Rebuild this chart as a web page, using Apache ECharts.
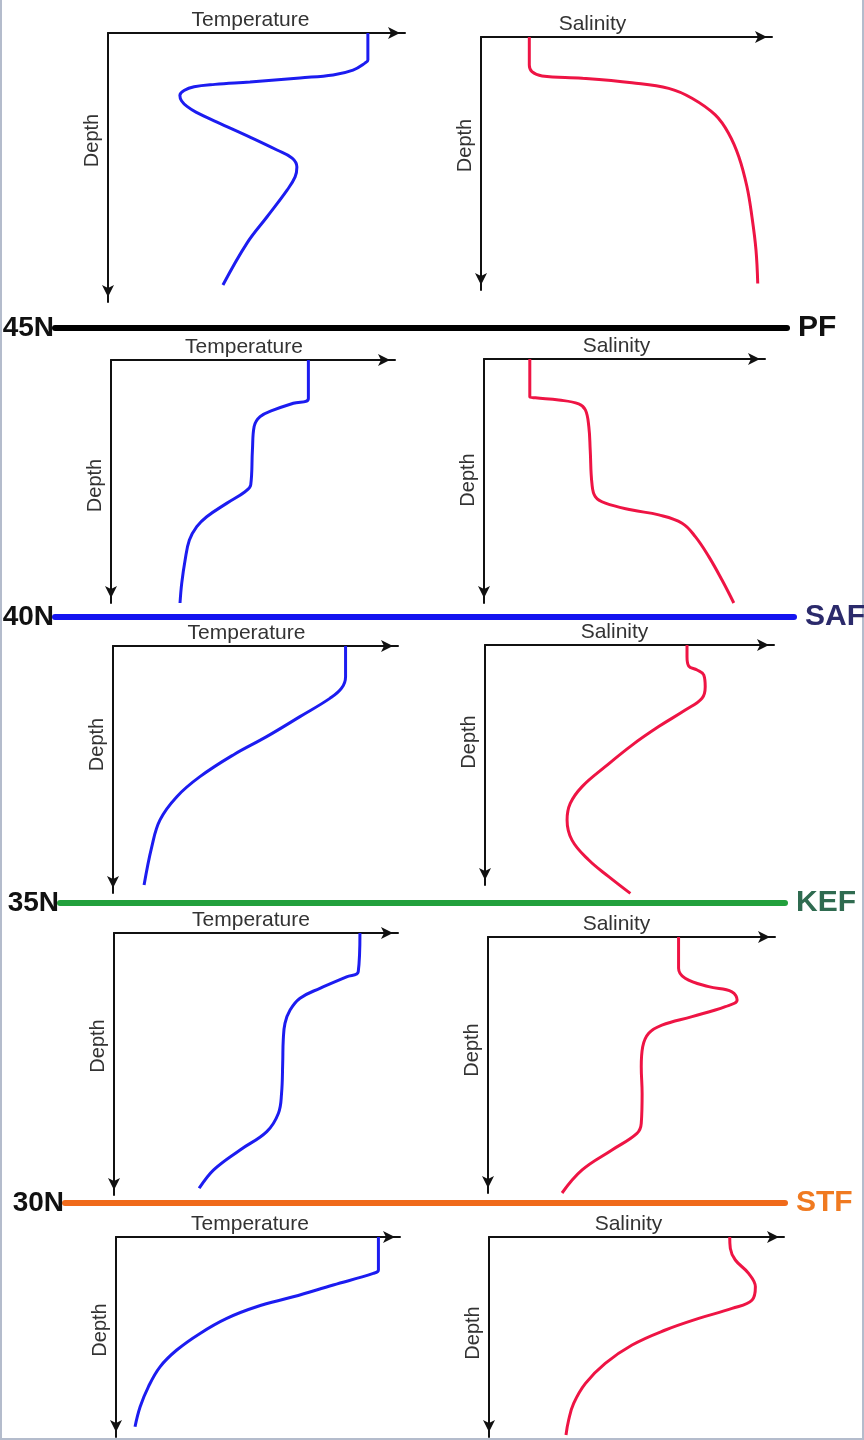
<!DOCTYPE html>
<html>
<head>
<meta charset="utf-8">
<script src="https://cdn.jsdelivr.net/npm/echarts@6/dist/echarts.min.js"></script>
<style>
html,body{margin:0;padding:0;background:#fff;}
#chart{width:864px;height:1440px;}
</style>
</head>
<body>
<div id="chart"></div>
<script>
// ---- Data: profiles as [value (% of axis), depth (% of axis)] ----
const tempRow1 = [[87.5,0],[87.5,10.0],[86.5,11.2],[82.5,13.8],[75.8,15.6],[64.6,16.7],[47.8,18.2],[36.0,19.1],[29.0,20.0],[25.6,21.4],[24.2,23.2],[24.8,25.3],[26.6,27.3],[29.6,29.4],[36.7,33.1],[47.8,38.7],[56.9,43.5],[62.0,46.5],[63.6,49.8],[63.0,53.5],[60.3,58.4],[53.5,68.4],[46.8,78.1],[38.7,93.7]];
const salRow1 = [[16.6,0],[16.6,11.1],[17.5,13.7],[21.0,15.4],[34.7,16.3],[51.9,18.1],[64.5,20.3],[72.5,24.2],[80.5,30.8],[85.1,38.1],[88.6,47.3],[91.4,59.2],[93.1,71.0],[94.5,84.2],[95.1,97.4]];
const tempRow2 = [[69.5,0],[69.5,15.8],[64.2,17.8],[57.1,20.6],[52.5,23.3],[50.4,27.4],[49.8,37.0],[49.2,51.4],[47.2,54.2],[40.7,59.0],[33.7,64.5],[30.2,68.6],[27.6,74.1],[26.1,82.3],[24.9,91.9],[24.3,100]];
const salRow2 = [[16.3,0],[16.3,15.5],[18.3,15.9],[26.6,16.8],[33.7,18.4],[36.1,20.9],[37.3,27.7],[37.8,37.3],[38.4,50.9],[39.6,56.4],[43.2,59.1],[52.7,61.9],[62.2,63.9],[70.5,67.3],[75.2,72.8],[80.0,81.0],[84.7,90.6],[88.9,100]];
const tempRow3 = [[81.6,0],[81.6,12.4],[80.2,17.1],[76.1,21.2],[65.6,28.6],[53.9,36.7],[42.2,44.1],[30.5,52.9],[22.4,61.0],[16.5,70.4],[13.6,81.3],[10.9,96.8]];
const salRow3 = [[69.9,0],[69.9,4.9],[70.5,8.8],[73.4,10.4],[75.7,12.5],[76.2,17.4],[75.1,22.2],[69.3,27.1],[60.1,34.0],[50.9,41.7],[41.6,50.7],[33.6,59.0],[29.5,66.0],[28.4,72.9],[30.1,81.3],[35.9,89.6],[42.8,96.5],[50.3,103.5]];
const tempRow4 = [[86.6,0],[86.0,14.8],[81.9,16.7],[72.5,21.1],[65.5,24.9],[62.0,29.4],[60.2,34.5],[59.6,40.8],[59.4,49.7],[59.0,61.2],[57.9,68.8],[53.8,75.8],[44.4,82.8],[35.0,90.5],[30.0,97.4]];
const salRow4 = [[66.4,0],[66.4,12.2],[68.7,16.1],[76.9,19.4],[85.0,21.4],[86.8,24.6],[82.7,27.2],[71.1,31.1],[60.6,34.4],[56.0,37.6],[53.9,42.9],[53.4,50.7],[53.7,61.1],[53.4,72.8],[51.9,76.7],[43.2,83.2],[32.8,91.0],[25.8,100]];
const tempRow5 = [[92.4,0],[92.4,16.5],[90.6,18.2],[76.5,24.0],[62.4,29.9],[49.5,34.9],[39.0,40.7],[29.6,48.2],[21.4,56.5],[15.5,64.9],[11.4,74.9],[8.5,84.9],[6.7,94.9]];
const salRow5 = [[81.6,0],[81.8,5.7],[83.5,11.5],[88.0,18.2],[90.3,24.9],[89.2,31.5],[82.4,35.7],[71.1,40.7],[59.8,46.5],[48.5,54.0],[39.4,63.2],[32.7,73.2],[28.7,83.2],[27.0,91.5],[26.1,99.0]];

const frontLat = ['45N','40N','35N','30N'];
const frontName = ['PF','SAF','KEF','STF'];

// ---- Layout (pixels) ----
const panelBox = [
  [108,33,297,269],[481,37,291,253],
  [111,360,284,243],[484,359,281,244],
  [113,646,285,247],[485,645,289,240],
  [114,933,284,262],[488,937,287,256],
  [116,1237,284,200],[489,1237,295,200]
];
const nameShiftX = [6,34,9,8,9,15,5,15,8,8];
const nameShiftY = [27,18,-4,1,25,23,18,15,7,4];
const frontY = [328,617,903,1203];
const frontX = [[55,787],[55,794],[60,785],[65,785]];
const frontLineColor = ['#000000','#1414f0','#22a03c','#f06a1a'];
const frontTextColor = ['#111111','#2b2a6b','#2f6b50','#f07a20'];

const profiles = [tempRow1,salRow1,tempRow2,salRow2,tempRow3,salRow3,tempRow4,salRow4,tempRow5,salRow5];
const FONT = 'Liberation Sans, Arial, sans-serif';

const grids = [], xAxes = [], yAxes = [], series = [];
panelBox.forEach((b,i) => {
  const isTemp = i % 2 === 0;
  grids.push({left:b[0], top:b[1], width:b[2], height:b[3]});
  const sx = nameShiftX[i], sy = nameShiftY[i];
  xAxes.push({
    gridIndex:i, type:'value', min:0, max:100, position:'top',
    name: isTemp ? 'Temperature' : 'Salinity',
    nameLocation:'middle', nameGap:2,
    nameTextStyle:{fontSize:21, color:'#333', fontFamily:FONT, padding:[0, 2*sx, 0, 0]},
    axisLine:{show:true, onZero:false, symbol:['none','arrow'], symbolSize:[9,12], symbolOffset:[0,-5],
      lineStyle:{color:'#111', width:2}},
    axisTick:{show:false}, axisLabel:{show:false}, splitLine:{show:false}
  });
  yAxes.push({
    gridIndex:i, type:'value', min:0, max:100, inverse:true, position:'left',
    name:'Depth', nameLocation:'middle', nameRotate:90, nameGap:6,
    nameTextStyle:{fontSize:20, color:'#333', fontFamily:FONT,
      padding: sy >= 0 ? [0,0,0,2*sy] : [0,-2*sy,0,0]},
    axisLine:{show:true, onZero:false, symbol:['arrow','none'], symbolSize:[9,12], symbolOffset:[5,0],
      lineStyle:{color:'#111', width:2}},
    axisTick:{show:false}, axisLabel:{show:false}, splitLine:{show:false}
  });
  series.push({
    type:'line', xAxisIndex:i, yAxisIndex:i, data:profiles[i],
    showSymbol:false, smooth:0.4, clip:false, silent:true,
    lineStyle:{width:3, color: isTemp ? '#1c1cf0' : '#ee1444'}
  });
});

// overlay page grid for the front lines
const OV = panelBox.length;
grids.push({left:0, top:0, width:864, height:1440});
xAxes.push({gridIndex:OV, type:'value', min:0, max:864, show:false});
yAxes.push({gridIndex:OV, type:'value', min:0, max:1440, inverse:true, show:false});
frontLat.forEach((lat,k) => {
  series.push({
    type:'line', xAxisIndex:OV, yAxisIndex:OV, silent:true,
    symbol:'circle', symbolSize:0.01, showSymbol:true, clip:false,
    lineStyle:{width:6, color:frontLineColor[k], cap:'round'},
    data:[
      {value:[frontX[k][0], frontY[k]], label:{show:true, position:'left', distance:1, formatter:lat,
        fontSize:28, fontWeight:'bold', color:'#111', fontFamily:FONT}},
      {value:[frontX[k][1], frontY[k]], label:{show:true, position:'right', distance:11, formatter:frontName[k],
        fontSize:30, fontWeight:'bold', color:frontTextColor[k], fontFamily:FONT}}
    ]
  });
});

const chart = echarts.init(document.getElementById('chart'), null, {renderer:'canvas'});
chart.setOption({
  animation:false,
  backgroundColor:'#ffffff',
  grid:grids, xAxis:xAxes, yAxis:yAxes, series:series,
  graphic:[{type:'polyline', silent:true,
    shape:{points:[[1,0],[1,1439],[863,1439],[863,0]]},
    style:{stroke:'#b4bccc', lineWidth:2, fill:null}}]
});
</script>
</body>
</html>
